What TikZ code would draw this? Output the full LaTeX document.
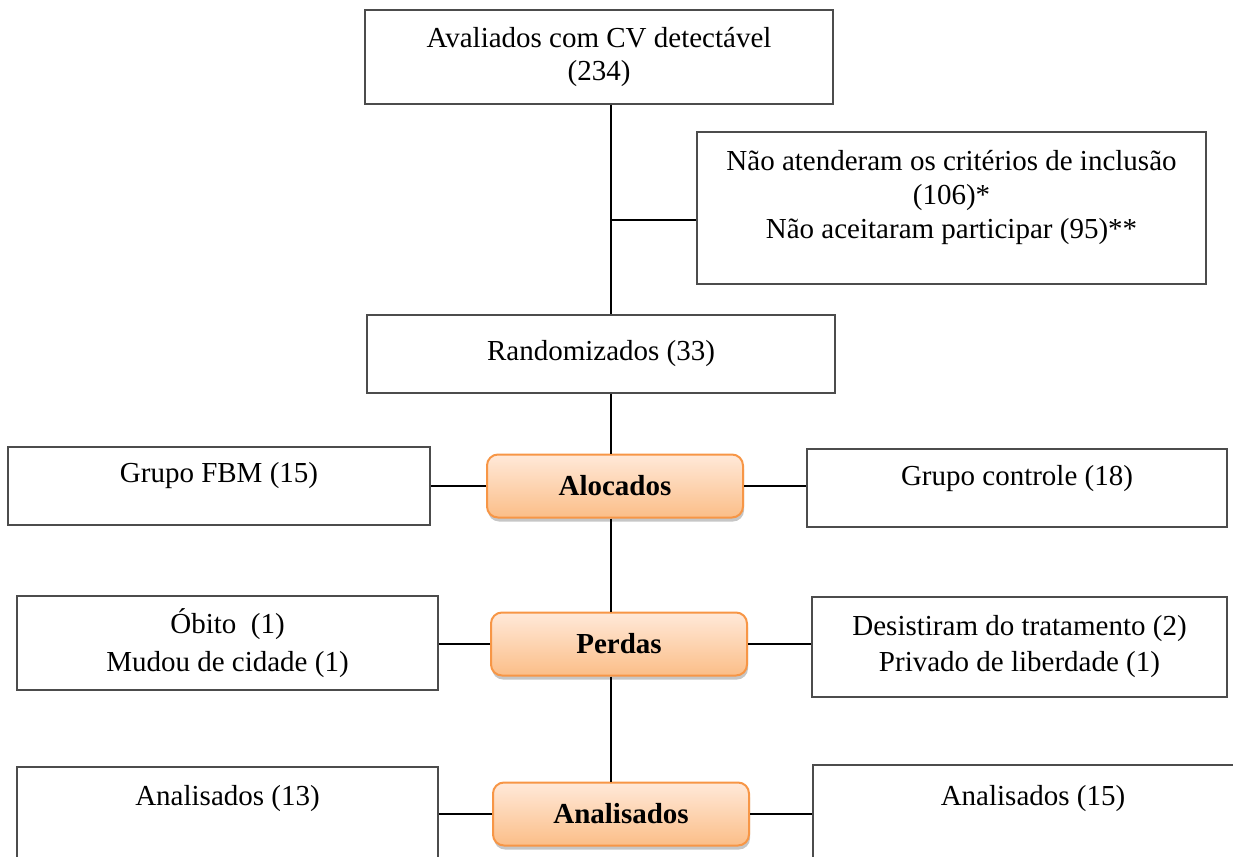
\documentclass[tikz,border=0pt]{standalone}
\usepackage{fontspec}
\setmainfont{Liberation Serif}
\usetikzlibrary{shadows}

\definecolor{orangeedge}{HTML}{F79646}
\definecolor{orangetop}{HTML}{FFE9D9}
\definecolor{orangebot}{HTML}{FBBE88}

\begin{document}
\begin{tikzpicture}[x=1pt, y=-1pt]
\tikzstyle{whitebox} = [
  draw = black!70,
  line width = 1.5pt,
  fill = white,
  inner sep = 2pt,
  align = center,
  font = \fontsize{29}{34}\selectfont
]
\tikzstyle{stagebox} = [
  draw = orangeedge,
  line width = 2pt,
  rounded corners = 11pt,
  top color = orangetop,
  bottom color = orangebot,
  drop shadow = {opacity=0.45, shadow xshift=1pt, shadow yshift=-4pt},
  minimum width = 256pt,
  minimum height = 63pt,
  inner sep = 2pt,
  font = \fontsize{29}{35}\selectfont\bfseries
]
\tikzstyle{link} = [
  draw = black,
  line width = 2pt
]

\useasboundingbox (0,0) rectangle (1233,856);
\clip (0,0) rectangle (1233,856);

\node [whitebox, minimum width=468pt, minimum height=94pt,
       font=\fontsize{29}{33}\selectfont] (aval) at (599,57)
  {Avaliados com CV detectável\\(234)};
\node [whitebox, minimum width=509pt, minimum height=152pt, text depth=28pt] (crit) at (951.5,208)
  {Não atenderam os critérios de inclusão\\(106)*\\Não aceitaram participar (95)**};
\node [whitebox, minimum width=468pt, minimum height=78pt] (rand) at (601,354)
  {Randomizados (33)};

\node [stagebox] (aloc) at (615,486) {Alocados};
\node [whitebox, minimum width=422pt, minimum height=78pt, text height=20pt, text depth=28pt] (grpfbm) at (219,486)
  {Grupo FBM (15)};
\node [whitebox, minimum width=420pt, minimum height=78pt, text height=20pt, text depth=26pt] (grpctl) at (1017,488)
  {Grupo controle (18)};

\node [stagebox] (perd) at (619,644) {Perdas};
\node [whitebox, minimum width=421pt, minimum height=94pt,
       font=\fontsize{29}{38}\selectfont] (perdfbm) at (227.5,643)
  {Óbito~ (1)\\Mudou de cidade (1)};
\node [whitebox, minimum width=415pt, minimum height=100pt,
       font=\fontsize{29}{36}\selectfont, text depth=8pt] (perdctl) at (1019.5,647)
  {Desistiram do tratamento (2)\\Privado de liberdade (1)};

\node [stagebox] (anal) at (621,814) {Analisados};
\node [whitebox, minimum width=421pt, minimum height=140pt, text height=20pt, text depth=84pt] (analfbm) at (227.5,837)
  {Analisados (13)};
\node [whitebox, minimum width=440pt, minimum height=140pt, text height=20pt, text depth=80pt] (analctl) at (1033,835)
  {Analisados (15)};

\coordinate (trunk) at (611,0);
\coordinate (critjoin) at (611,220);

\draw[link] (aval.south -| trunk) -- (rand.north -| trunk);
\draw[link] (critjoin) -- (critjoin -| crit.west);
\draw[link] (rand.south -| trunk) -- (aloc.north -| trunk);
\draw[link] (aloc.south -| trunk) -- (perd.north -| trunk);
\draw[link] (perd.south -| trunk) -- (anal.north -| trunk);

\draw[link] (aloc.west) -- (aloc.west -| grpfbm.east);
\draw[link] (aloc.east) -- (aloc.east -| grpctl.west);
\draw[link] (perd.west) -- (perd.west -| perdfbm.east);
\draw[link] (perd.east) -- (perd.east -| perdctl.west);
\draw[link] (anal.west) -- (anal.west -| analfbm.east);
\draw[link] (anal.east) -- (anal.east -| analctl.west);

\end{tikzpicture}
\end{document}
